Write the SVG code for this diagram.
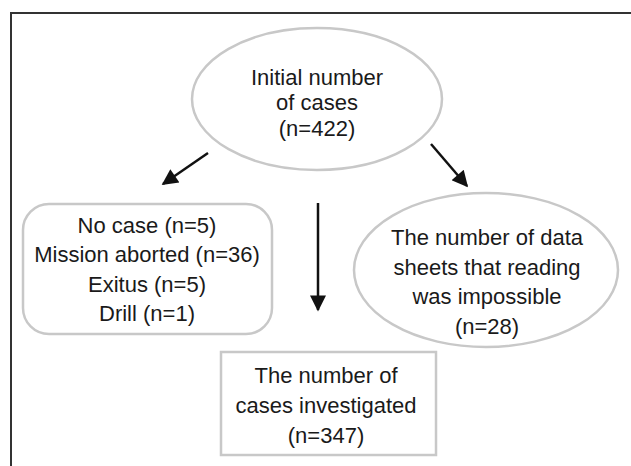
<svg xmlns="http://www.w3.org/2000/svg" width="631" height="466" viewBox="0 0 631 466">
<style>
.node{fill:#fff;stroke:#c8c8c8;stroke-width:2.5}
.t{font-family:"Liberation Sans",Arial,sans-serif;font-size:22px;fill:#1a1a1a;text-anchor:middle}
.arr{stroke:#111;stroke-width:2.5;fill:none;marker-end:url(#ah)}
</style>
<defs>
<marker id="ah" viewBox="0 0 10 10" refX="9" refY="5" markerUnits="userSpaceOnUse" markerWidth="21" markerHeight="16" orient="auto">
<path d="M0,0 L10,5 L0,10 Z" fill="#111"/>
</marker>
</defs>
<rect width="631" height="466" fill="#fff"/>
<path d="M11,466 V13 H631" fill="none" stroke="#333" stroke-width="2"/>
<g id="connectors">
<line class="arr" x1="208" y1="153" x2="163" y2="184"/>
<line class="arr" x1="431" y1="144" x2="467" y2="186"/>
<line class="arr" x1="318" y1="203" x2="318" y2="310"/>
</g>
<g id="initial">
<ellipse class="node" cx="317" cy="99" rx="125" ry="71"/>
<text class="t" x="317" y="85">Initial number</text>
<text class="t" x="317" y="110">of cases</text>
<text class="t" x="317" y="136">(n=422)</text>
</g>
<g id="excluded">
<rect class="node" x="23" y="204" width="249" height="130" rx="26"/>
<text class="t" x="147" y="233">No case (n=5)</text>
<text class="t" x="147" y="262">Mission aborted (n=36)</text>
<text class="t" x="147" y="292">Exitus (n=5)</text>
<text class="t" x="147" y="321">Drill (n=1)</text>
</g>
<g id="unreadable">
<ellipse class="node" cx="486" cy="270" rx="132" ry="77"/>
<text class="t" x="487" y="245">The number of data</text>
<text class="t" x="487" y="275">sheets that reading</text>
<text class="t" x="487" y="304">was impossible</text>
<text class="t" x="487" y="334">(n=28)</text>
</g>
<g id="investigated">
<rect class="node" x="221" y="352" width="215" height="103"/>
<text class="t" x="326" y="383">The number of</text>
<text class="t" x="326" y="413">cases investigated</text>
<text class="t" x="326" y="443">(n=347)</text>
</g>
</svg>
